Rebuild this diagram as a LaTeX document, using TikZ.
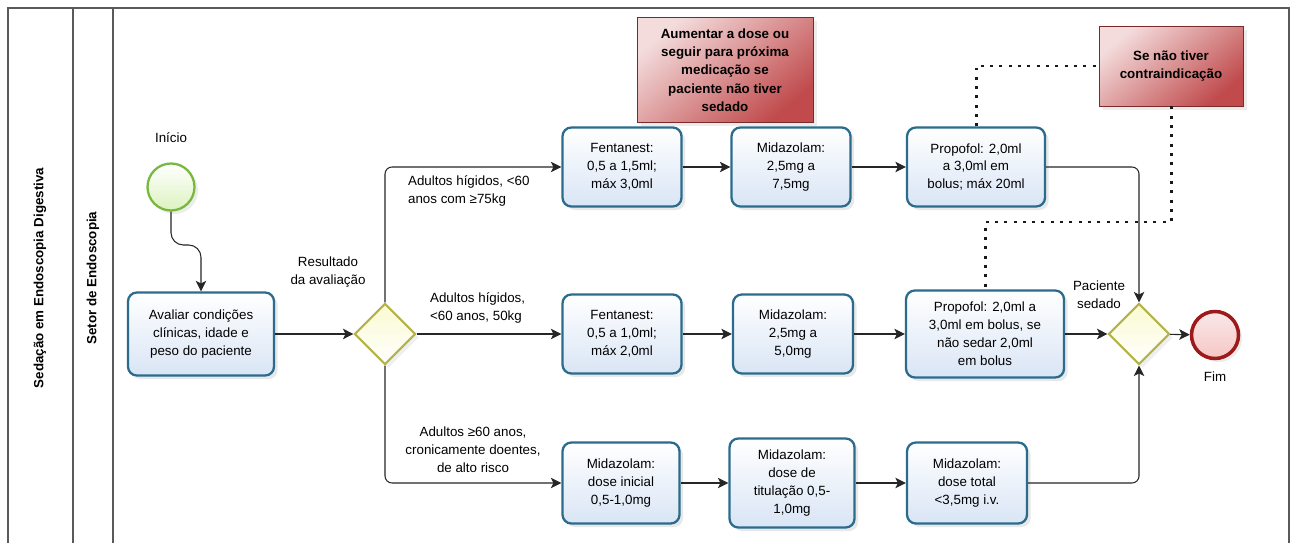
\documentclass[tikz,border=0pt]{standalone}
\usepackage{fontspec}
\setmainfont{Liberation Sans}
\usepackage{xcolor}
\usetikzlibrary{arrows.meta,positioning,shapes.geometric,shadows}
\definecolor{taskborder}{HTML}{2B6B8C}
\definecolor{taskfill}{HTML}{D9E5F5}
\definecolor{gwborder}{HTML}{B3B34A}
\definecolor{gwfill}{HTML}{FAFAD0}
\definecolor{startborder}{HTML}{78B83C}
\definecolor{startfill}{HTML}{DDF2C0}
\definecolor{endborder}{HTML}{9E1A1A}
\definecolor{endfill}{HTML}{F5C6C6}
\definecolor{notelight}{HTML}{F4DCDC}
\definecolor{notedark}{HTML}{C04A4C}
\definecolor{noteborder}{HTML}{7A2A2A}
\definecolor{lanegray}{HTML}{5A5A5A}
\tikzset{
    task/.style 2 args = {rectangle, rounded corners=5pt, draw=taskborder, line width=1.3pt, top color=white, bottom color=taskfill, minimum width=#1, minimum height=#2, align=center, inner sep=2pt, drop shadow={opacity=0.18, shadow xshift=2pt, shadow yshift=-2pt}},
    gateway/.style = {diamond, draw=gwborder, line width=1.2pt, top color=gwfill, bottom color=white, minimum width=1.22cm, minimum height=1.22cm, inner sep=0pt, drop shadow={opacity=0.12, shadow xshift=2pt, shadow yshift=-2pt}},
    start-event/.style = {circle, draw=startborder, line width=1.3pt, top color=white, bottom color=startfill, minimum size=0.94cm, inner sep=0pt, drop shadow={opacity=0.15, shadow xshift=2pt, shadow yshift=-2pt}},
    end-event/.style = {circle, draw=endborder, line width=2pt, top color=white!60!endfill, bottom color=endfill, minimum size=0.94cm, inner sep=0pt, drop shadow={opacity=0.15, shadow xshift=2pt, shadow yshift=-2pt}},
    note/.style 2 args = {rectangle, draw=noteborder, line width=0.5pt, top color=notelight, bottom color=notedark, shading angle=40, minimum width=#1, minimum height=#2, align=center, font=\fontsize{7.6}{10.4}\selectfont\bfseries, drop shadow={opacity=0.15, shadow xshift=2pt, shadow yshift=-2pt}},
    lbl/.style = {align=center, inner sep=1pt},
    lane-title/.style = {rotate=90, font=\fontsize{7.6}{10.2}\selectfont\bfseries},
    lane/.style = {draw=lanegray, line width=0.8pt},
    flow/.style = {draw=black!85, line width=0.6pt, rounded corners=4pt, -{Stealth[length=6pt, width=6pt, inset=1.5pt]}},
    assoc/.style = {draw=black!90, line width=1.7pt, dash pattern=on 1.7pt off 3.6pt},
}

\begin{document}
\begin{tikzpicture}[x=0.02cm, y=-0.02cm, every node/.style={font=\fontsize{7.6}{10.2}\selectfont}]
\useasboundingbox[fill=white] (0,0) rectangle (1293,543);

% pool and lane
\draw[lane] (8,545) -- (8,8) -- (1289,8) -- (1289,545);
\draw[lane] (73,8) -- (73,545);
\draw[lane] (113,8) -- (113,545);
\node[lane-title] (pool) at (40,278) {Sedação em Endoscopia Digestiva};
\node[lane-title] (setor) at (93,278) {Setor de Endoscopia};

% events and gateways
\node[start-event] (start) at (171,187) {};
\node[lbl] (inicio) at (171,138) {Início};
\node[gateway] (g1) at (385,334) {};
\node[lbl] (resultado) at (328,272) {Resultado\\da avaliação};
\node[gateway] (g2) at (1139,334) {};
\node[lbl] (sedado) at (1099,295) {Paciente\\sedado};
\node[end-event] (fim) at (1215,335) {};
\node[lbl] (fimlbl) at (1215,377) {Fim};

% tasks
\node[task={2.92cm}{1.66cm}] (avaliar) at (201,334) {Avaliar condições\\clínicas, idade e\\peso do paciente};

\node[task={2.38cm}{1.58cm}] (fent1) at (622,167) {Fentanest:\\0,5 a 1,5ml;\\máx 3,0ml};
\node[task={2.38cm}{1.58cm}] (mida1) at (791,167) {Midazolam:\\2,5mg a\\7,5mg};
\node[task={2.76cm}{1.58cm}] (prop1) at (976,167) {Propofol: 2,0ml\\a 3,0ml em\\bolus; máx 20ml};

\node[task={2.38cm}{1.58cm}] (fent2) at (622,334) {Fentanest:\\0,5 a 1,0ml;\\máx 2,0ml};
\node[task={2.40cm}{1.58cm}] (mida2) at (793,334) {Midazolam:\\2,5mg a\\5,0mg};
\node[task={3.16cm}{1.74cm}] (prop2) at (985,334) {Propofol: 2,0ml a\\3,0ml em bolus, se\\não sedar 2,0ml\\em bolus};

\node[task={2.34cm}{1.62cm}] (midb1) at (621,483) {Midazolam:\\dose inicial\\0,5-1,0mg};
\node[task={2.50cm}{1.78cm}] (midb2) at (792,483) {Midazolam:\\dose de\\titulação 0,5-\\1,0mg};
\node[task={2.40cm}{1.62cm}] (midb3) at (967,483) {Midazolam:\\dose total\\<3,5mg i.v.};

% annotations
\node[note={3.52cm}{2.10cm}] (nota1) at (725,70) {Aumentar a dose ou\\seguir para próxima\\medicação se\\paciente não tiver\\sedado};
\node[note={2.88cm}{1.60cm}] (nota2) at (1171,66) {Se não tiver\\contraindicação};

% branch labels
\node[lbl, anchor=west, align=left] (ramo1) at (406,191) {Adultos hígidos, <60\\anos com ≥75kg};
\node[lbl, anchor=west, align=left] (ramo2) at (428,308) {Adultos hígidos,\\<60 anos, 50kg};
\node[lbl] (ramo3) at (473,450) {Adultos ≥60 anos,\\cronicamente doentes,\\de alto risco};

% sequence flows
\coordinate (dobra) at (171,245);
\draw[flow, rounded corners=7pt] (start) -- (dobra) -| (avaliar.north);
\draw[flow] (avaliar) -- (g1);
\draw[flow] (g1.north) |- (fent1.west);
\draw[flow] (g1.east) -- (fent2.west);
\draw[flow] (g1.south) |- (midb1.west);
\draw[flow] (fent1) -- (mida1);
\draw[flow] (mida1) -- (prop1);
\draw[flow] (fent2) -- (mida2);
\draw[flow] (mida2) -- (prop2);
\draw[flow] (midb1) -- (midb2);
\draw[flow] (midb2) -- (midb3);
\draw[flow] (prop1.east) -| (g2.north);
\draw[flow] (prop2) -- (g2);
\draw[flow] (midb3.east) -| (g2.south);
\draw[flow] (g2) -- (fim);

% associations
\coordinate (volta) at (1171,222);
\draw[assoc] (prop1.north) |- (nota2.west);
\draw[assoc] (nota2.south) -- (volta) -| (prop2.north);
\end{tikzpicture}
\end{document}
